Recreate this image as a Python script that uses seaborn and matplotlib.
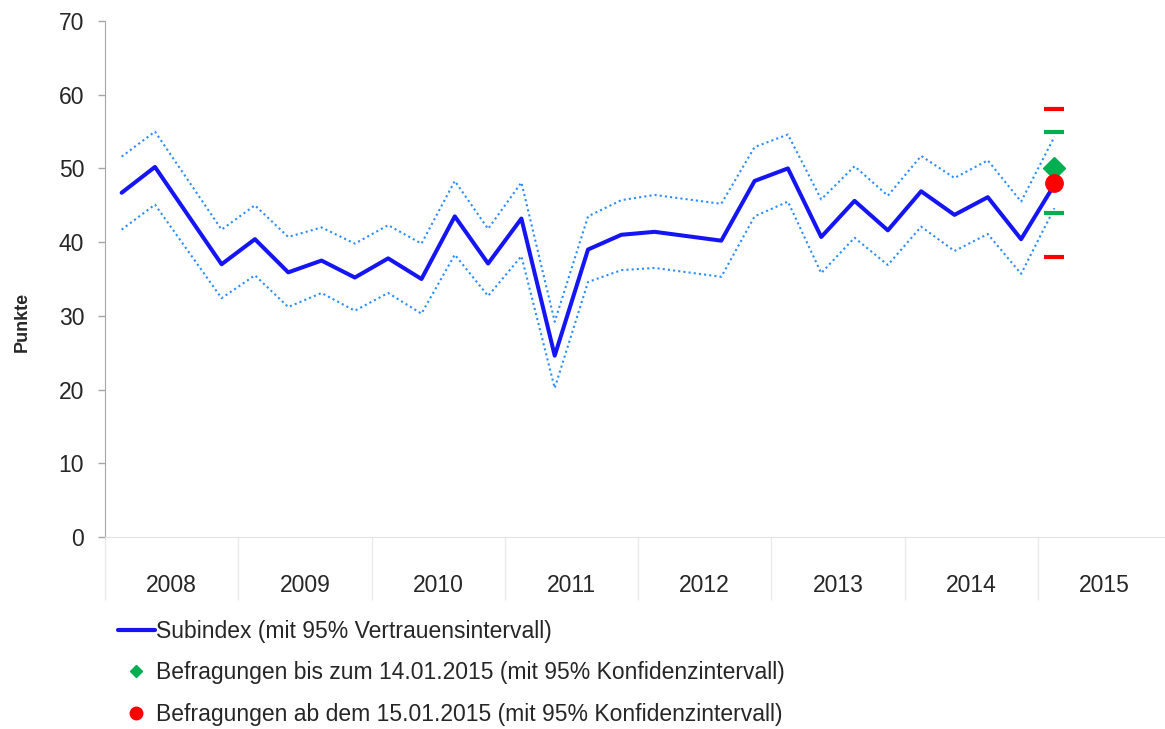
import numpy as np
import pandas as pd
import matplotlib
matplotlib.use('Agg')
import matplotlib.pyplot as plt
from matplotlib.lines import Line2D
import seaborn as sns

# quarter index, 0 = Q1 2008 (2008 Q3 and 2012 Q2 have no value)
quarter = [0, 1, 3, 4, 5, 6, 7, 8, 9, 10, 11, 12, 13, 14, 15, 16,
           18, 19, 20, 21, 22, 23, 24, 25, 26, 27, 28]
subindex = [46.7, 50.2, 37.0, 40.4, 35.9, 37.5, 35.2, 37.8, 35.0, 43.5, 37.1, 43.2, 24.6, 39.0, 41.0, 41.4,
            40.2, 48.3, 50.0, 40.7, 45.6, 41.6, 46.9, 43.7, 46.1, 40.4, 47.8]
upper = [51.6, 55.0, 41.7, 45.0, 40.7, 42.0, 39.8, 42.3, 39.8, 48.3, 41.8, 48.1, 29.2, 43.5, 45.7, 46.4,
         45.2, 52.9, 54.6, 45.8, 50.3, 46.3, 51.7, 48.7, 51.1, 45.5, 54.3]
lower = [41.7, 45.1, 32.4, 35.5, 31.2, 33.1, 30.7, 33.1, 30.3, 38.3, 32.7, 38.1, 20.2, 34.6, 36.2, 36.5,
         35.3, 43.5, 45.5, 35.8, 40.6, 36.9, 42.1, 38.8, 41.1, 35.7, 44.6]

years = ['2008', '2009', '2010', '2011', '2012', '2013', '2014', '2015']

# Befragungen 2015 (Wert und 95% Konfidenzintervall)
survey_quarter = 28
bis_value = 50.0
bis_ci = [44.0, 55.0]
ab_value = 48.0
ab_ci = [38.0, 58.0]

labels = ['Subindex (mit 95% Vertrauensintervall)',
          'Befragungen bis zum 14.01.2015 (mit 95% Konfidenzintervall)',
          'Befragungen ab dem 15.01.2015 (mit 95% Konfidenzintervall)']

sns.set_style('white')
plt.rcParams['font.family'] = ['Liberation Sans', 'DejaVu Sans']

main_col = '#1414F5'
ci_col = '#2A8CFF'
green = '#00B050'
red = '#FF0000'
fs = 16.5

df = pd.DataFrame({'quarter': quarter, 'subindex': subindex, 'upper': upper, 'lower': lower})

fig = plt.figure(figsize=(11.65, 7.29), dpi=100)
ax = fig.add_axes([105 / 1165, 192 / 729, 1066 / 1165, 516 / 729])

sns.lineplot(data=df, x='quarter', y='upper', ax=ax, color=ci_col, lw=1.5, linestyle=(0, (1, 1.5)))
sns.lineplot(data=df, x='quarter', y='lower', ax=ax, color=ci_col, lw=1.5, linestyle=(0, (1, 1.5)))
sns.lineplot(data=df, x='quarter', y='subindex', ax=ax, color=main_col, lw=2.9)

# survey markers with CI dashes
ax.plot([survey_quarter] * 2, bis_ci, ls='none', marker='_', ms=14.5, mew=3, color=green)
ax.plot([survey_quarter] * 2, ab_ci, ls='none', marker='_', ms=14.5, mew=3, color=red)
ax.plot([survey_quarter], [bis_value], ls='none', marker='D', ms=11.5, color=green)
ax.plot([survey_quarter], [ab_value], ls='none', marker='o', ms=12.5, color=red)

ax.set_xlim(-0.5, 31.5)
ax.set_ylim(0, 70)
ax.set_yticks(range(0, 71, 10))
ax.tick_params(axis='y', length=5, width=1, color='#A6A6A6', pad=10, labelsize=fs, left=True)

# year boundaries as long major ticks, year names on minor ticks
ax.set_xticks([-0.5 + 4 * i for i in range(9)])
ax.set_xticklabels([])
ax.set_xticks([1.5 + 4 * i for i in range(8)], minor=True)
ax.set_xticklabels(years, minor=True)
ax.tick_params(axis='x', which='major', length=45, width=1, color='#EBEBEB', bottom=True)
ax.tick_params(axis='x', which='minor', length=0, pad=27, labelsize=fs)

ax.set_xlabel('')
ax.set_ylabel('')
for s in ['top', 'right']:
    ax.spines[s].set_visible(False)
ax.spines['left'].set_color('#A6A6A6')
ax.spines['bottom'].set_color('#E3E3E3')

fig.text(22 / 1165, 1 - 322 / 729, 'Punkte', rotation=90, fontsize=13, fontweight='bold',
         ha='center', va='center')

handles = [Line2D([], [], color=main_col, lw=3),
           Line2D([], [], ls='none', marker='D', ms=6.2, color=green),
           Line2D([], [], ls='none', marker='o', ms=9, color=red)]
fig.legend(handles, labels, loc='upper left', bbox_to_anchor=(118 / 1165, 1 - 620 / 729),
           frameon=False, fontsize=fs, handlelength=1.6, handletextpad=0.05,
           labelspacing=0.8, borderpad=0, borderaxespad=0)

fig.savefig('out.png', dpi=100)
